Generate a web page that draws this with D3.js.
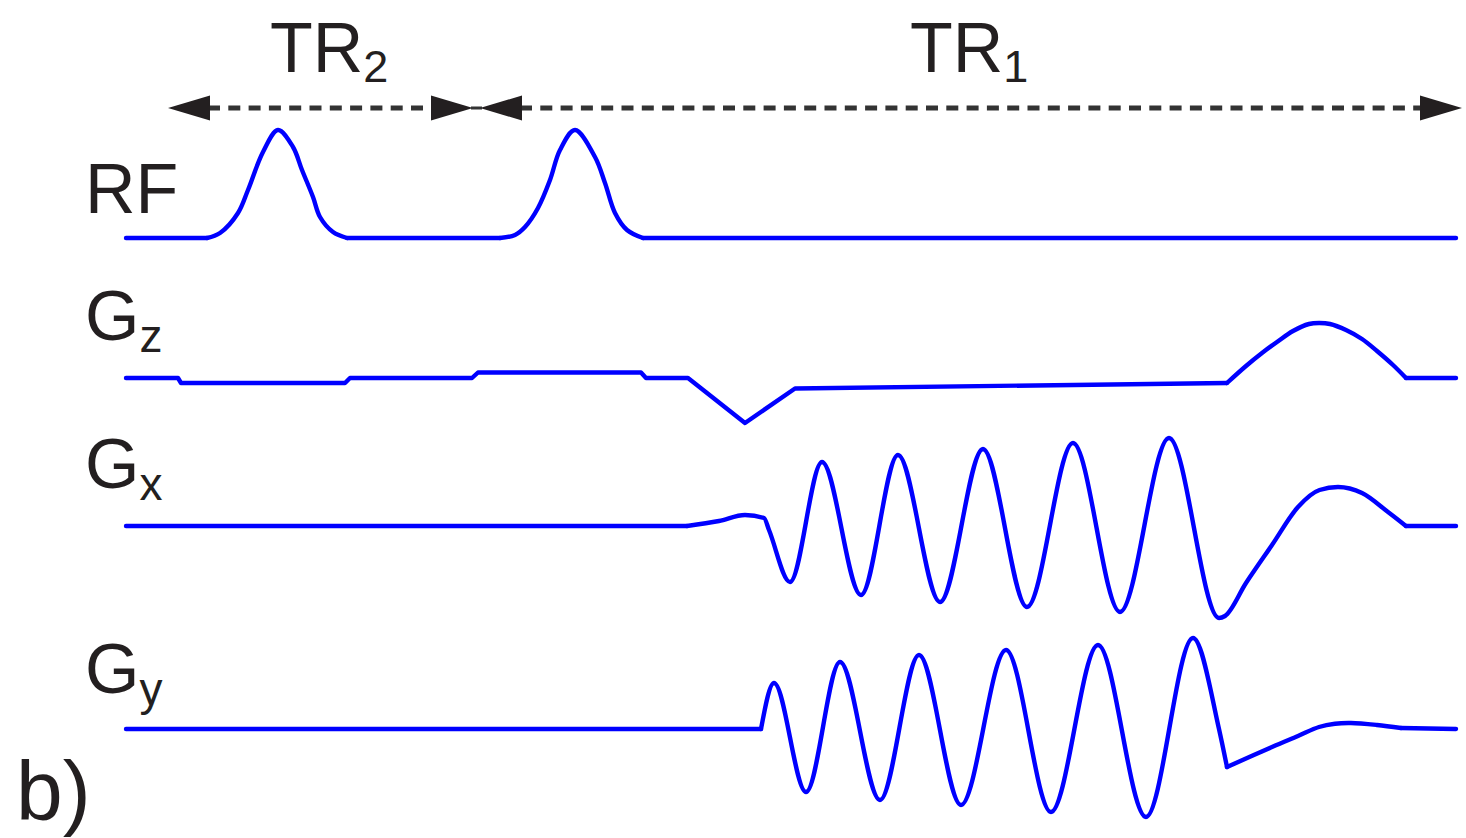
<!DOCTYPE html>
<html>
<head>
<meta charset="utf-8">
<script src="https://cdn.jsdelivr.net/npm/d3@7"></script>
<style>
  html, body { margin: 0; padding: 0; background: #fff; }
  svg { display: block; }
  text { font-family: "Liberation Sans", Arial, sans-serif; fill: #231f20; }
</style>
</head>
<body>
<svg id="chart" width="1466" height="838"></svg>
<script>
// ---------------- DATA (time in arbitrary units, amplitude normalised) ----------------
const channelNames = ["RF", "G", "G", "G"];
const channelSubs  = ["", "z", "x", "y"];

const rfTime = [0, 81, 94, 112, 122, 137, 152, 167, 176, 187, 194, 207, 221,
                374, 389, 399, 412, 424, 434, 449, 469, 479, 489, 501, 517, 1330];
const rfAmp  = [0, 0, 0.05, 0.25, 0.48, 0.86, 1.08, 0.91, 0.68, 0.41, 0.21, 0.06, 0,
                0, 0.03, 0.11, 0.30, 0.58, 0.88, 1.08, 0.81, 0.55, 0.25, 0.08, 0, 0];

const gzTime = [0, 52, 55, 219, 224, 346, 352, 515, 520, 562, 619, 669, 1101,
                1120, 1136, 1151, 1167, 1183, 1193, 1204, 1220, 1236, 1251, 1267, 1280, 1330];
const gzAmp  = [0, 0, -0.05, -0.05, 0, 0, 0.055, 0.055, 0, 0, -0.45, -0.105, -0.05,
                0.12, 0.25, 0.36, 0.47, 0.54, 0.55, 0.54, 0.48, 0.39, 0.27, 0.13, 0, 0];

const gxTime = [0, 561, 593, 619, 638, 643, 664, 696, 735, 772, 814, 857, 901, 947, 994,
                1043, 1093, 1099, 1120, 1146, 1172, 1193.5, 1212, 1236, 1262, 1280, 1330];
const gxAmp  = [0, 0, 0.05, 0.11, 0.08, -0.04, -0.56, 0.64, -0.69, 0.71, -0.76, 0.77, -0.81, 0.83, -0.86,
                0.88, -0.92, -0.90, -0.57, -0.19, 0.19, 0.36, 0.39, 0.33, 0.14, 0, 0];

const gyTime = [0, 635, 648, 680, 714, 754, 793, 835, 880, 925, 972, 1020, 1067, 1093, 1101,
                1146, 1172, 1193, 1209, 1225, 1251, 1275, 1330];
const gyAmp  = [0, 0, 0.46, -0.63, 0.67, -0.71, 0.74, -0.76, 0.79, -0.83, 0.84, -0.88, 0.91, 0, -0.38,
                -0.18, -0.07, 0.02, 0.053, 0.06, 0.04, 0.01, 0];

// TR intervals (time units)
const intervalLabels = ["TR", "TR"];
const intervalSubs   = ["2", "1"];
const intervalStart  = [42, 354];
const intervalEnd    = [347, 1336];

const panelLabel = "b)";

// ---------------- LAYOUT ----------------
const svg = d3.select("#chart");
svg.append("rect").attr("width", 1466).attr("height", 838).attr("fill", "#fff");

const x = d3.scaleLinear().domain([0, 1330]).range([126, 1456]);
const baselines = [238, 378, 526, 729];
const ampPx = 100;
const curveMap = {
  lin: d3.curveLinear,
  mono: d3.curveMonotoneX,
  cat: d3.curveCatmullRom.alpha(0.5)
};
// how each trace is drawn: [from, to, curve]
const pieces = [
  [[0, 81, "lin"], [81, 221, "cat"], [221, 374, "lin"], [374, 517, "cat"], [517, 1330, "lin"]],
  [[0, 1101, "lin"], [1101, 1280, "cat"], [1280, 1330, "lin"]],
  [[0, 561, "lin"], [561, 1280, "mono"], [1280, 1330, "lin"]],
  [[0, 635, "lin"], [635, 1101, "mono"], [1101, 1275, "cat"], [1275, 1330, "lin"]]
];

const series = [
  d3.zip(rfTime, rfAmp),
  d3.zip(gzTime, gzAmp),
  d3.zip(gxTime, gxAmp),
  d3.zip(gyTime, gyAmp)
];

series.forEach((pts, i) => {
  const y = d3.scaleLinear().domain([-1, 1]).range([baselines[i] + ampPx, baselines[i] - ampPx]);
  pieces[i].forEach(([a, b, c]) => {
    const sub = pts.filter(d => d[0] >= a && d[0] <= b);
    const line = d3.line().x(d => x(d[0])).y(d => y(d[1])).curve(curveMap[c]);
    svg.append("path")
      .attr("d", line(sub))
      .attr("fill", "none")
      .attr("stroke", "#0000ff")
      .attr("stroke-width", 4.4)
      .attr("stroke-linejoin", "round")
      .attr("stroke-linecap", "round");
  });
});

// channel labels
const labelY = [213, 340, 488, 693];
channelNames.forEach((n, i) => {
  const t = svg.append("text")
    .attr("x", 85).attr("y", labelY[i])
    .attr("font-size", 70);
  t.append("tspan").text(n);
  if (channelSubs[i]) {
    t.append("tspan").attr("font-size", 46).attr("dy", 12).text(channelSubs[i]);
  }
});

// TR arrows
const arrowY = 108;
const headLen = 42, headHalf = 12.5;
intervalStart.forEach((s, i) => {
  const x0 = x(s), x1 = x(intervalEnd[i]);
  svg.append("line")
    .attr("x1", x0 + headLen - 2).attr("x2", x1 - headLen + 2)
    .attr("y1", arrowY).attr("y2", arrowY)
    .attr("stroke", "#333").attr("stroke-width", 5)
    .attr("stroke-dasharray", "12,8.3");
  svg.append("path")
    .attr("d", `M${x0},${arrowY} L${x0 + headLen},${arrowY - headHalf} L${x0 + headLen},${arrowY + headHalf} Z`)
    .attr("fill", "#231f20");
  svg.append("path")
    .attr("d", `M${x1},${arrowY} L${x1 - headLen},${arrowY - headHalf} L${x1 - headLen},${arrowY + headHalf} Z`)
    .attr("fill", "#231f20");
});
// small connector between TR2 and TR1 heads
svg.append("line")
  .attr("x1", x(intervalEnd[0]) - 2).attr("x2", x(intervalStart[1]) + 2)
  .attr("y1", arrowY).attr("y2", arrowY)
  .attr("stroke", "#333").attr("stroke-width", 3);

const trTextX = [270, 910];
intervalLabels.forEach((l, i) => {
  const t = svg.append("text").attr("x", trTextX[i]).attr("y", 72).attr("font-size", 70);
  t.append("tspan").text(l);
  t.append("tspan").attr("font-size", 45).attr("dy", 10).text(intervalSubs[i]);
});

svg.append("text").attr("x", 16).attr("y", 820).attr("font-size", 84).text(panelLabel);
</script>
</body>
</html>
